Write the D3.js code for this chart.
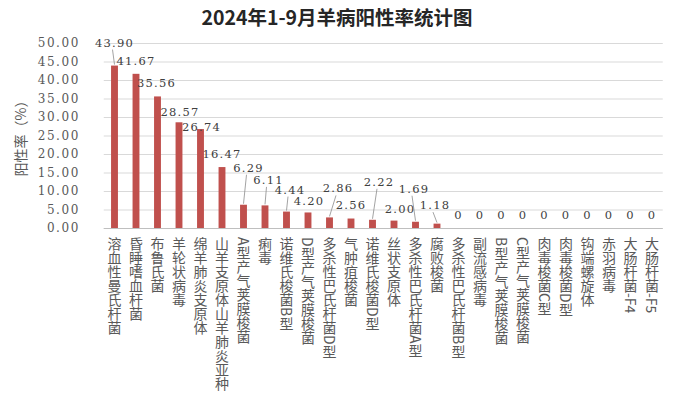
<!DOCTYPE html>
<html><head><meta charset="utf-8">
<script src="https://cdn.jsdelivr.net/npm/d3@7"></script>
<style>
html,body{margin:0;padding:0;background:#fff;}
svg{display:block;}
</style></head>
<body>
<svg id="chart" width="679" height="399"></svg>
<script>
const title = "2024年1-9月羊病阳性率统计图";
const yTitle = "阳性率（%）";
const categories = ["溶血性曼氏杆菌","昏睡嗜血杆菌","布鲁氏菌","羊轮状病毒","绵羊肺炎支原体","山羊支原体山羊肺炎亚种","A型产气荚膜梭菌","痢毒","诺维氏梭菌B型","D型产气荚膜梭菌","多杀性巴氏杆菌D型","气肿疽梭菌","诺维氏梭菌D型","丝状支原体","多杀性巴氏杆菌A型","腐败梭菌","多杀性巴氏杆菌B型","副流感病毒","B型产气荚膜梭菌","C型产气荚膜梭菌","肉毒梭菌C型","肉毒梭菌D型","钩端螺旋体","赤羽病毒","大肠杆菌-F4","大肠杆菌-F5"];
const values = [43.90,41.67,35.56,28.57,26.74,16.47,6.29,6.11,4.44,4.20,2.86,2.56,2.22,2.00,1.69,1.18,0,0,0,0,0,0,0,0,0,0];
const yTicks = [0,5,10,15,20,25,30,35,40,45,50];
// layout: data-label offsets from bar top (dx, dy)
const labelOffsets = [[0,-23],[0,-13],[-1,-13],[1,-10],[1,-2],[0,-13],[5,-37],[3.5,-25.5],[3.5,-22],[1,-11],[8.5,-29],[0,-13.5],[6.5,-38],[6,-12],[-1.5,-33],[-2,-18.5]];

const svg = d3.select("#chart");
const W = 679, H = 399;
const m = {left:103.75, right:679-662.75, top:43, bottom:399-228};

const x = d3.scaleBand().domain(categories).range([m.left, W - m.right]).paddingInner(0.68).paddingOuter(0.34);
const y = d3.scaleLinear().domain([0,50]).range([H - m.bottom, m.top]);

svg.append("text").attr("x", 337).attr("y", 25).attr("text-anchor","middle")
  .style("font-family","'Noto Sans CJK SC','Noto Sans',sans-serif").style("font-weight","bold")
  .style("font-size","19.5px").attr("fill","#262626").text(title);

// grid
const grid = svg.append("g").attr("transform",`translate(${m.left},0)`)
  .call(d3.axisLeft(y).tickValues(yTicks).tickSize(-(W - m.right - m.left)).tickFormat(""));
grid.select(".domain").remove();
grid.selectAll("line").attr("stroke","#d9d9d9").attr("stroke-width",1);

// y tick labels
svg.append("g").selectAll("text").data(yTicks).join("text")
  .attr("x", 80).attr("y", d => y(d)).attr("dy","0.35em").attr("text-anchor","end")
  .style("font-family","'DejaVu Serif',serif").style("font-size","12px").style("letter-spacing","1.6px")
  .attr("fill","#595959").text(d => d3.format(".2f")(d));

// y title
svg.append("text").attr("transform",`translate(26,135) rotate(-90)`).attr("text-anchor","middle")
  .style("font-family","'Noto Sans CJK SC',sans-serif").style("font-size","14px")
  .attr("fill","#595959").text(yTitle);

// x axis line
svg.append("line").attr("x1", m.left).attr("x2", W - m.right).attr("y1", y(0)+0.5).attr("y2", y(0)+0.5)
  .attr("stroke","#bfbfbf");

// bars
svg.append("g").selectAll("rect").data(values).join("rect")
  .attr("x",(d,i)=>x(categories[i])).attr("width",x.bandwidth())
  .attr("y",d=>y(d)).attr("height",d=>y(0)-y(d)).attr("fill","#c0504d");

// leader lines + labels
const lab = svg.append("g");
values.forEach((v,i)=>{
  const cx = x(categories[i]) + x.bandwidth()/2;
  const off = labelOffsets[i] || [0,-13];
  const lx = cx + off[0], ly = y(v) + off[1];
  if (off[1] < -16) {
    lab.append("line").attr("x1", lx - 2).attr("y1", ly + 7).attr("x2", cx).attr("y2", y(v) - 1)
      .attr("stroke","#8c8c8c").attr("stroke-width",0.8);
  }
  lab.append("text").attr("x", lx).attr("y", ly).attr("dy","0.35em").attr("text-anchor","middle")
    .style("font-family","'DejaVu Serif',serif").style("font-size","11.5px").style("letter-spacing","1.2px")
    .attr("fill","#404040").text(v === 0 ? "0" : d3.format(".2f")(v));
});

// x labels vertical
svg.append("g").selectAll("text").data(categories).join("text")
  .attr("x", d => x(d) + x.bandwidth()/2).attr("y", 237)
  .style("writing-mode","vertical-rl").style("text-orientation","mixed")
  .style("font-family","'Noto Sans CJK SC',sans-serif").style("font-size","14px")
  .attr("fill","#595959").text(d => d);
</script>
</body></html>
